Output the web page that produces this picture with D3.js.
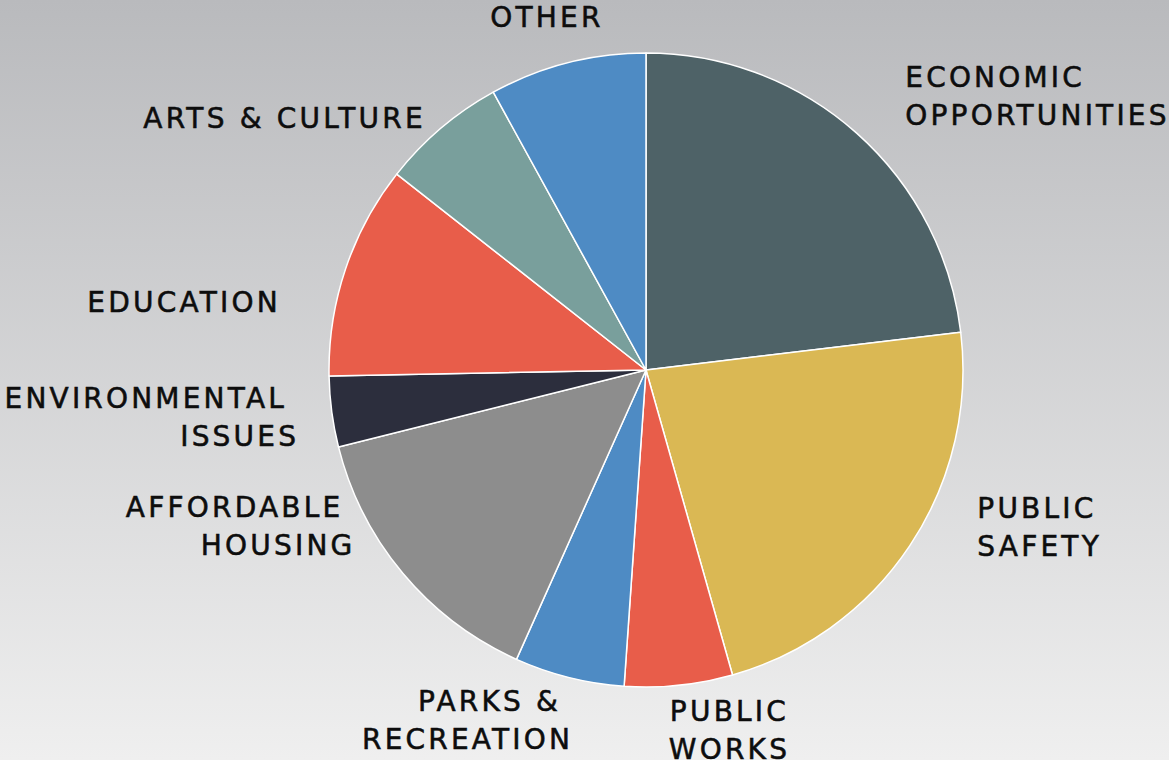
<!DOCTYPE html>
<html>
<head>
<meta charset="utf-8">
<script src="https://cdn.jsdelivr.net/npm/d3@7"></script>
<style>
  html, body { margin: 0; padding: 0; }
  body { width: 1169px; height: 760px; overflow: hidden; }
  svg { display: block; }
  .label { font-family: "DejaVu Sans", sans-serif; font-size: 28px; letter-spacing: 3.2px; fill: #0d0d0d; stroke: #0d0d0d; stroke-width: 0.55px; white-space: pre; }
</style>
</head>
<body>
<svg id="chart" width="1169" height="760"></svg>
<script>
// Share of responses by topic (percent), clockwise from 12 o'clock
const categories = [
  "ECONOMIC\nOPPORTUNITIES",
  "PUBLIC\nSAFETY",
  "PUBLIC\nWORKS",
  "PARKS & \nRECREATION",
  "AFFORDABLE \nHOUSING",
  "ENVIRONMENTAL \nISSUES",
  "EDUCATION",
  "ARTS & CULTURE",
  "OTHER"
];
const values = [23.1, 22.5, 5.5, 5.6, 14.4, 3.6, 10.9, 6.4, 8.0];
const colors = ["#4e6267", "#dab854", "#e85d4a", "#4e8bc4", "#8d8d8d", "#2c2e3d", "#e85d4a", "#799f9c", "#4e8bc4"];

// Label layout: nudges from the default outside-arc anchor, in px
const labelNudge = [[19, -3], [30, -44], [46, 0], [15, -1], [-13, -76], [12, -1], [-22, 47], [14, 24], [-9, -2]];
const labelAlign = ["start", "start", "middle", "end", "end", "end", "end", "end", "middle"];

const W = 1169, H = 760;
const cx = 646, cy = 370, radius = 317, labelRadius = 362;
const lineHeight = 38, capHeight = 20;

const svg = d3.select("#chart");

const defs = svg.append("defs");
const grad = defs.append("linearGradient")
  .attr("id", "bg").attr("x1", 0).attr("y1", 0).attr("x2", 0).attr("y2", 1);
grad.append("stop").attr("offset", "0%").attr("stop-color", "#b9babd");
grad.append("stop").attr("offset", "100%").attr("stop-color", "#efefef");
svg.append("rect").attr("width", W).attr("height", H).attr("fill", "url(#bg)");

const pie = d3.pie().sort(null).value(d => d)(values);
const arc = d3.arc().innerRadius(0).outerRadius(radius);

const g = svg.append("g").attr("transform", `translate(${cx},${cy})`);

g.selectAll("path.slice")
  .data(pie)
  .join("path")
  .attr("class", "slice")
  .attr("d", arc)
  .attr("fill", (d, i) => colors[i])
  .attr("stroke", "#ffffff")
  .attr("stroke-width", 1.5)
  .attr("stroke-linejoin", "round");

// Outside labels
g.selectAll("text.label")
  .data(pie)
  .join("text")
  .attr("class", "label")
  .attr("text-anchor", (d, i) => labelAlign[i])
  .each(function (d, i) {
    const a = (d.startAngle + d.endAngle) / 2;
    const x = labelRadius * Math.sin(a) + labelNudge[i][0];
    const yMid = -labelRadius * Math.cos(a) + labelNudge[i][1];
    const lines = categories[i].split("\n");
    const firstBaseline = yMid - (lines.length - 1) * lineHeight / 2 + capHeight / 2;
    const t = d3.select(this);
    lines.forEach((ln, k) => {
      t.append("tspan")
        .attr("x", x)
        .attr("y", firstBaseline + k * lineHeight)
        .text(ln);
    });
  });
</script>
</body>
</html>
